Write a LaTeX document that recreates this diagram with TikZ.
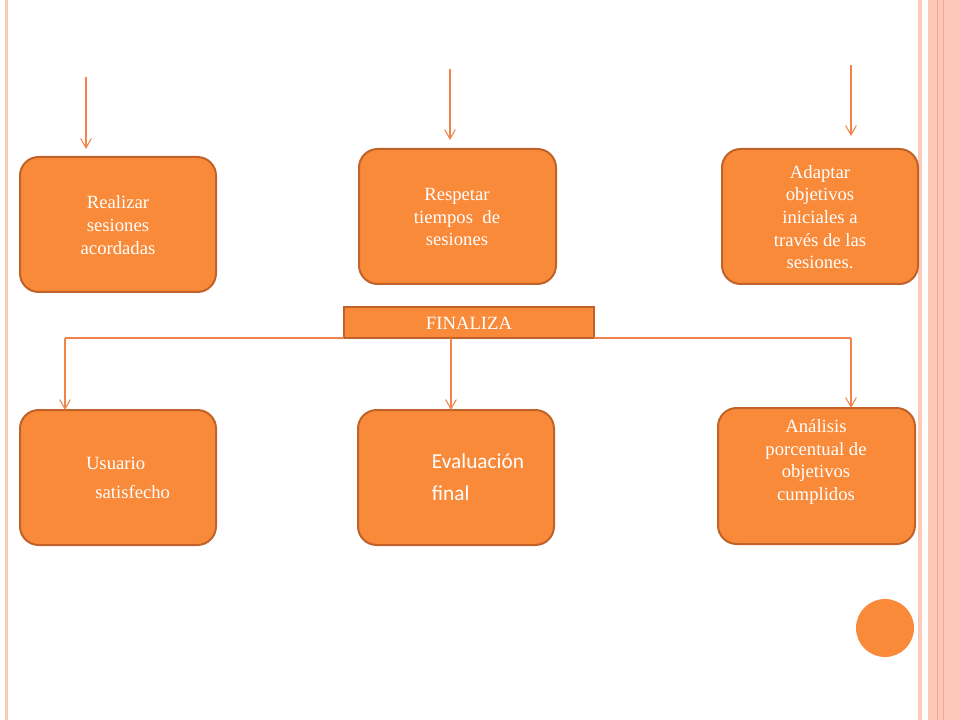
\documentclass[tikz,border=0pt]{standalone}
\usepackage{fontspec}
\setmainfont{Liberation Serif}
\newfontfamily\calib{Carlito}
\usetikzlibrary{arrows.meta}
\definecolor{fillor}{HTML}{F98A3A}
\definecolor{edgeor}{HTML}{C0622A}
\definecolor{lineor}{HTML}{F0844A}
\definecolor{pinkb}{HTML}{FCC8B8}
\definecolor{pinkd}{HTML}{F4A890}
\begin{document}
\begin{tikzpicture}[x=0.75pt,y=-0.75pt,
  box/.style={draw=edgeor,line width=1.5pt,fill=fillor,rounded corners=14pt,text=white,font=\fontsize{14}{16}\selectfont,align=center},
  conn/.style={draw=lineor,line width=0.8pt,-{Straight Barb[length=7pt,width=8pt]}}]
\useasboundingbox (0,0) rectangle (960,720);
\fill[white] (0,0) rectangle (960,720);
% borders
\fill[pinkb] (5,0) rectangle (8,720);
\fill[pinkb] (918,0) rectangle (922,720);
\fill[pinkb] (928,0) rectangle (960,720);
\draw[pinkd,line width=0.6pt] (937,0) -- (937,720);
\draw[pinkd,line width=0.6pt] (943,0) -- (943,720);
% boxes
\path[box] (20,157) rectangle (216,292);
\node[text=white,align=center,font=\fontsize{14}{17}\selectfont] (b1) at (118,225) {Realizar\\sesiones\\acordadas};
\path[box] (359,149) rectangle (556,284);
\node[text=white,align=center,font=\fontsize{14}{17}\selectfont] (b2) at (457,217) {Respetar\\tiempos~ de\\sesiones};
\path[box] (722,149) rectangle (918,284);
\node[text=white,align=center,font=\fontsize{14}{17}\selectfont] (b3) at (820,217) {Adaptar\\objetivos\\iniciales a\\través de las\\sesiones.};
\path[draw=edgeor,line width=1.5pt,fill=fillor] (344,307) rectangle (594,338);
\node[text=white,font=\fontsize{14}{16}\selectfont] (fin) at (469,323) {FINALIZA};
\path[box] (20,410) rectangle (216,545);
\node[text=white,align=left,font=\fontsize{14}{22}\selectfont] (b4) at (128,478) {Usuario\\\ \ satisfecho};
\path[box] (358,410) rectangle (554,545);
\node[text=white,align=left,font=\calib\fontsize{16}{24}\selectfont] (b5) at (478,477) {Evaluación\\final};
\path[box] (718,408) rectangle (915,544);
\node[text=white,align=center,font=\fontsize{14}{17}\selectfont] (b6) at (816,462) {Análisis\\porcentual de\\objetivos\\cumplidos};
\fill[fillor] (885,628) circle (29);
% connectors
\coordinate (t1) at (86,77); \coordinate (e1) at (86,149);
\coordinate (t2) at (450,69); \coordinate (e2) at (450,140);
\coordinate (t3) at (851,65); \coordinate (e3) at (851,136);
\draw[conn] (t1) -- (e1);
\draw[conn] (t2) -- (e2);
\draw[conn] (t3) -- (e3);
\coordinate (l) at (65,338); \coordinate (r) at (851,338); \coordinate (m) at (451,338);
\draw[lineor,line width=0.8pt] (l) -- (344,338);
\draw[lineor,line width=0.8pt] (594,338) -- (r);
\draw[conn] (l) -- (65,410);
\draw[conn] (m) -- (451,410);
\draw[conn] (r) -- (851,408);
\end{tikzpicture}
\end{document}
